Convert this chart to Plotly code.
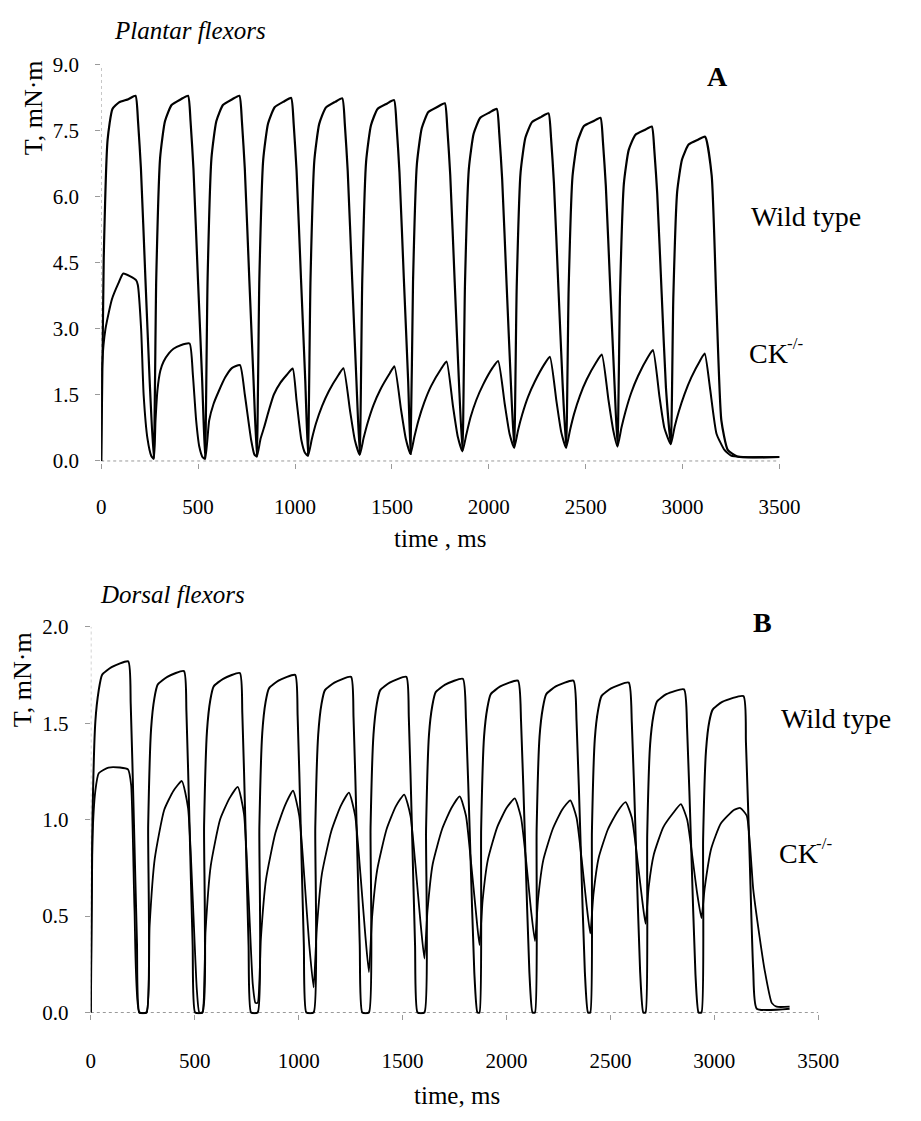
import plotly.graph_objects as go

W, H = 921, 1121

# ---- Panel A: plantar flexors, torque (mN·m) vs time (ms) ----
pf_wt_t = [
    0, 13, 33, 58, 92, 140, 177, 190, 205, 228, 250,
    271, 284, 304, 329, 363, 411, 448, 461, 476, 499, 521,
    536, 549, 569, 594, 628, 676, 713, 726, 741, 764, 786,
    803, 816, 836, 861, 895, 943, 980, 993, 1008, 1031, 1053,
    1067, 1080, 1100, 1125, 1159, 1207, 1244, 1257, 1272, 1295, 1317,
    1334, 1347, 1367, 1392, 1426, 1474, 1511, 1524, 1539, 1562, 1584,
    1596, 1609, 1629, 1654, 1688, 1736, 1773, 1786, 1801, 1824, 1846,
    1864, 1877, 1897, 1922, 1956, 2004, 2041, 2054, 2069, 2092, 2114,
    2131, 2144, 2164, 2189, 2223, 2271, 2308, 2321, 2336, 2359, 2381,
    2399, 2412, 2432, 2457, 2491, 2539, 2576, 2589, 2604, 2627, 2649,
    2664, 2677, 2697, 2722, 2756, 2804, 2841, 2854, 2869, 2892, 2914,
    2939, 2952, 2972, 2997, 3031, 3079, 3116, 3150, 3175, 3200, 3233, 3283, 3500,
]
pf_wt_v = [
    0.00, 4.60, 7.30, 8.00, 8.15, 8.22, 8.30, 7.72, 6.64, 4.15, 1.83,
    0.05, 4.15, 6.89, 7.72, 8.09, 8.22, 8.30, 7.72, 6.64, 4.15, 1.83,
    0.05, 4.15, 6.89, 7.72, 8.09, 8.22, 8.30, 7.72, 6.64, 4.15, 1.83,
    0.10, 4.13, 6.85, 7.67, 8.04, 8.17, 8.25, 7.67, 6.60, 4.13, 1.82,
    0.12, 4.12, 6.84, 7.66, 8.03, 8.16, 8.24, 7.66, 6.59, 4.12, 1.81,
    0.14, 4.10, 6.81, 7.63, 8.00, 8.12, 8.20, 7.63, 6.56, 4.10, 1.80,
    0.16, 4.07, 6.75, 7.56, 7.93, 8.05, 8.13, 7.56, 6.50, 4.07, 1.79,
    0.22, 4.00, 6.64, 7.44, 7.80, 7.92, 8.00, 7.44, 6.40, 4.00, 1.76,
    0.30, 3.95, 6.56, 7.35, 7.70, 7.82, 7.90, 7.35, 6.32, 3.95, 1.74,
    0.30, 3.90, 6.47, 7.25, 7.61, 7.72, 7.80, 7.25, 6.24, 3.90, 1.72,
    0.33, 3.80, 6.31, 7.07, 7.41, 7.52, 7.60, 7.07, 6.08, 3.80, 1.67,
    0.38, 3.69, 6.12, 6.85, 7.19, 7.30, 7.37, 6.49, 3.52, 0.92, 0.25, 0.10, 0.09,
]
pf_ck_t = [
    0, 5, 22, 55, 89, 114, 180, 189, 206, 219, 239, 258,
    271, 280, 290, 305, 322, 350, 373, 410, 456, 473, 490, 506, 524,
    536, 557, 580, 607, 640, 674, 716, 741, 774, 790,
    803, 822, 841, 865, 891, 925, 958, 988, 1008, 1033, 1052,
    1067, 1087, 1108, 1140, 1175, 1225, 1250, 1284, 1309,
    1334, 1354, 1375, 1405, 1440, 1490, 1513, 1547, 1572,
    1596, 1616, 1637, 1667, 1702, 1755, 1782, 1815, 1840,
    1864, 1884, 1905, 1935, 1970, 2020, 2048, 2082, 2107,
    2131, 2151, 2172, 2202, 2237, 2287, 2315, 2349, 2374,
    2399, 2419, 2440, 2470, 2505, 2555, 2583, 2617, 2642,
    2664, 2684, 2705, 2735, 2770, 2820, 2847, 2881, 2906,
    2939, 2959, 2980, 3010, 3045, 3090, 3114, 3141, 3175, 3216, 3250, 3300, 3500,
]
pf_ck_v = [
    0.00, 2.20, 3.00, 3.67, 4.04, 4.26, 4.11, 4.00, 3.00, 1.50, 0.50, 0.12,
    0.05, 0.90, 1.60, 2.05, 2.26, 2.45, 2.55, 2.63, 2.67, 1.96, 0.92, 0.33, 0.08,
    0.05, 0.92, 1.30, 1.59, 1.90, 2.11, 2.18, 1.51, 0.47, 0.15,
    0.10, 0.50, 0.77, 1.15, 1.51, 1.78, 1.96, 2.10, 1.37, 0.47, 0.18,
    0.12, 0.50, 0.85, 1.25, 1.59, 1.96, 2.11, 1.14, 0.47,
    0.14, 0.52, 0.87, 1.27, 1.62, 2.00, 2.15, 1.17, 0.50,
    0.16, 0.55, 0.92, 1.33, 1.70, 2.10, 2.26, 1.25, 0.55,
    0.22, 0.60, 0.98, 1.38, 1.73, 2.12, 2.27, 1.30, 0.62,
    0.30, 0.70, 1.05, 1.45, 1.80, 2.20, 2.37, 1.36, 0.65,
    0.30, 0.70, 1.07, 1.48, 1.85, 2.25, 2.42, 1.40, 0.70,
    0.33, 0.75, 1.12, 1.55, 1.93, 2.35, 2.52, 1.45, 0.75,
    0.38, 0.78, 1.12, 1.52, 1.90, 2.28, 2.44, 1.67, 0.62, 0.25, 0.12, 0.09, 0.09,
]

# ---- Panel B: dorsal flexors ----
df_wt_t = [
    0, 8, 22, 38, 54, 100, 180, 192, 207, 222, 234,
    268, 276, 290, 306, 322, 368, 448, 460, 475, 490, 502,
    537, 545, 559, 575, 591, 637, 717, 729, 744, 759, 771,
    803, 811, 825, 841, 857, 903, 983, 995, 1010, 1025, 1037,
    1072, 1080, 1094, 1110, 1126, 1172, 1252, 1264, 1279, 1294, 1306,
    1338, 1346, 1360, 1376, 1392, 1438, 1518, 1530, 1545, 1560, 1572,
    1605, 1613, 1627, 1643, 1659, 1705, 1790, 1805, 1825, 1845, 1860,
    1870, 1878, 1892, 1908, 1924, 1970, 2055, 2070, 2090, 2110, 2125,
    2137, 2145, 2159, 2175, 2191, 2237, 2322, 2337, 2357, 2377, 2392,
    2403, 2411, 2425, 2441, 2457, 2503, 2588, 2603, 2623, 2643, 2658,
    2669, 2677, 2691, 2707, 2723, 2769, 2854, 2869, 2889, 2909, 2924,
    2938, 2946, 2960, 2976, 2992, 3038, 3140, 3152, 3170, 3187, 3204, 3362,
]
df_wt_v = [
    0.00, 1.00, 1.51, 1.67, 1.75, 1.79, 1.82, 1.60, 1.00, 0.36, 0.00,
    0.00, 0.97, 1.47, 1.63, 1.70, 1.74, 1.77, 1.56, 0.97, 0.35, 0.00,
    0.00, 0.97, 1.46, 1.62, 1.69, 1.73, 1.76, 1.55, 0.97, 0.35, 0.00,
    0.00, 0.96, 1.45, 1.61, 1.68, 1.72, 1.75, 1.54, 0.96, 0.35, 0.00,
    0.00, 0.96, 1.44, 1.60, 1.67, 1.71, 1.74, 1.53, 0.96, 0.35, 0.00,
    0.00, 0.96, 1.44, 1.60, 1.67, 1.71, 1.74, 1.53, 0.96, 0.35, 0.00,
    0.00, 0.95, 1.44, 1.59, 1.66, 1.70, 1.73, 1.52, 0.87, 0.21, 0.00,
    0.00, 0.95, 1.43, 1.58, 1.65, 1.69, 1.72, 1.51, 0.86, 0.21, 0.00,
    0.00, 0.95, 1.43, 1.58, 1.65, 1.69, 1.72, 1.51, 0.86, 0.21, 0.00,
    0.00, 0.94, 1.42, 1.57, 1.64, 1.68, 1.71, 1.50, 0.86, 0.21, 0.00,
    0.00, 0.92, 1.39, 1.54, 1.61, 1.65, 1.675, 1.47, 0.84, 0.20, 0.00,
    0.00, 0.90, 1.36, 1.51, 1.57, 1.61, 1.64, 1.40, 0.80, 0.22, 0.02, 0.02,
]
df_ck_t = [
    0, 8, 22, 38, 85, 140, 179, 194, 210, 233,
    268, 283, 308, 353, 398, 438, 468, 490, 510, 522,
    537, 552, 577, 622, 667, 707, 737, 759, 779, 792,
    803, 818, 843, 888, 933, 973, 1003, 1028, 1051,
    1072, 1087, 1112, 1157, 1202, 1242, 1272, 1297, 1320,
    1338, 1353, 1378, 1423, 1468, 1508, 1538, 1563, 1586,
    1605, 1620, 1645, 1690, 1735, 1775, 1805, 1830, 1853,
    1870, 1885, 1910, 1955, 2000, 2040, 2070, 2095, 2118,
    2137, 2152, 2177, 2222, 2267, 2307, 2337, 2362, 2385,
    2403, 2418, 2443, 2488, 2533, 2573, 2603, 2628, 2651,
    2669, 2684, 2709, 2754, 2799, 2839, 2869, 2894, 2917,
    2938, 2953, 2985, 3031, 3094, 3125, 3156, 3187, 3218, 3242, 3276, 3300, 3362,
]
df_ck_v = [
    0.00, 0.90, 1.15, 1.24, 1.27, 1.27, 1.26, 1.18, 0.54, 0.00,
    0.00, 0.45, 0.80, 1.05, 1.15, 1.20, 1.06, 0.60, 0.12, 0.00,
    0.00, 0.42, 0.76, 1.00, 1.11, 1.17, 1.03, 0.60, 0.15, 0.05,
    0.05, 0.38, 0.69, 0.93, 1.07, 1.15, 1.02, 0.69, 0.35,
    0.13, 0.43, 0.72, 0.94, 1.07, 1.14, 1.02, 0.72, 0.41,
    0.21, 0.49, 0.74, 0.95, 1.07, 1.13, 1.02, 0.75, 0.47,
    0.28, 0.53, 0.77, 0.95, 1.06, 1.12, 1.02, 0.77, 0.52,
    0.35, 0.58, 0.79, 0.96, 1.06, 1.11, 1.01, 0.78, 0.53,
    0.37, 0.59, 0.79, 0.95, 1.05, 1.10, 1.01, 0.79, 0.56,
    0.41, 0.61, 0.80, 0.95, 1.04, 1.09, 1.01, 0.81, 0.60,
    0.46, 0.65, 0.82, 0.96, 1.03, 1.08, 1.00, 0.81, 0.62,
    0.49, 0.64, 0.85, 0.98, 1.05, 1.06, 1.02, 0.64, 0.39, 0.22, 0.05, 0.03, 0.03,
]

x_ticks = [0, 500, 1000, 1500, 2000, 2500, 3000, 3500]
pf_y_ticks = [0.0, 1.5, 3.0, 4.5, 6.0, 7.5, 9.0]
df_y_ticks = [0.0, 0.5, 1.0, 1.5, 2.0]

SERIF = "Liberation Serif, Times New Roman, serif"
INK = "black"
AXIS_GREY = "#9a9a9a"


def px_x(p):
    return p / W


def px_y(p):
    return 1 - p / H


fig = go.Figure()

trace_style = dict(mode="lines", line_shape="spline", showlegend=False, hoverinfo="skip")
fig.add_trace(go.Scatter(x=pf_wt_t, y=pf_wt_v, xaxis="x", yaxis="y",
                         line=dict(color=INK, width=2.2, smoothing=0.5), **trace_style))
fig.add_trace(go.Scatter(x=pf_ck_t, y=pf_ck_v, xaxis="x", yaxis="y",
                         line=dict(color=INK, width=2.0, smoothing=0.5), **trace_style))
fig.add_trace(go.Scatter(x=df_wt_t, y=df_wt_v, xaxis="x2", yaxis="y2",
                         line=dict(color=INK, width=2.0, smoothing=0.5), **trace_style))
fig.add_trace(go.Scatter(x=df_ck_t, y=df_ck_v, xaxis="x2", yaxis="y2",
                         line=dict(color=INK, width=1.8, smoothing=0.5), **trace_style))

axis_common = dict(showgrid=False, zeroline=False, showline=False,
                   ticks="outside", ticklen=5, tickwidth=1, tickcolor=AXIS_GREY,
                   tickfont=dict(family=SERIF, size=21, color=INK))

# panel A: t=0 at x=99px, 3500 at 797px; T=0 at y=458px, 9.0 at y=54px
# panel B: t=0 at x=88px, 3500 at 837px; T=0 at y=1020px, 2.0 at y=627px
fig.update_layout(
    xaxis=dict(domain=[px_x(99), px_x(797)], range=[0, 3500], anchor="y",
               tickvals=x_ticks, ticklabelstandoff=20, **axis_common),
    yaxis=dict(domain=[px_y(460.2), px_y(54)], range=[-0.05, 9.0], anchor="x",
               tickvals=pf_y_ticks, tickformat=".1f", ticklabelstandoff=12, **axis_common),
    xaxis2=dict(domain=[px_x(88.3), px_x(836.9)], range=[0, 3500], anchor="y2",
                tickvals=x_ticks, ticklabelstandoff=22, **axis_common),
    yaxis2=dict(domain=[px_y(1022.5), px_y(627)], range=[-0.01, 2.0], anchor="x2",
                tickvals=df_y_ticks, tickformat=".1f", ticklabelstandoff=12, **axis_common),
)

# dotted axis lines along T=0 and t=0
dotted = dict(color=AXIS_GREY, width=1, dash="dot")
fig.add_shape(type="line", xref="x", yref="y", x0=0, x1=3500, y0=0, y1=0, line=dotted, layer="below")
fig.add_shape(type="line", xref="x", yref="y", x0=0, x1=0, y0=0, y1=9.0, line=dotted, layer="below")
fig.add_shape(type="line", xref="x2", yref="y2", x0=0, x1=3500, y0=0, y1=0, line=dotted, layer="below")
fig.add_shape(type="line", xref="x2", yref="y2", x0=0, x1=0, y0=0, y1=2.0, line=dotted, layer="below")


def label(text, x, y, size, xanchor="center", angle=0, style="normal", weight="normal"):
    fig.add_annotation(text=text, x=px_x(x), y=px_y(y), xref="paper", yref="paper",
                       xanchor=xanchor, yanchor="middle", textangle=angle, showarrow=False,
                       font=dict(family=SERIF, size=size, color=INK, style=style, weight=weight))


# panel A text
label("Plantar flexors", 190, 19, 25, style="italic")
label("A", 733, 66, 28, weight="bold")
label("Wild type", 766, 209, 28, xanchor="left")
label("CK", 764, 348, 28, xanchor="left")
label("-/-", 803, 338, 17, xanchor="left")
label("time , ms", 448, 537, 25)
label("T, mN·m", 29, 98, 26, angle=-90)

# panel B text
label("Dorsal flexors", 172, 594, 25, style="italic")
label("B", 780, 623, 28, weight="bold")
label("Wild type", 796, 721, 28, xanchor="left")
label("CK", 794, 858, 28, xanchor="left")
label("-/-", 833, 848, 17, xanchor="left")
label("time, ms", 465, 1105, 25)
label("T, mN·m", 18, 681, 26, angle=-90)

fig.update_layout(width=W, height=H, margin=dict(l=0, r=0, t=0, b=0),
                  paper_bgcolor="white", plot_bgcolor="white")

fig.write_html("out.html")
